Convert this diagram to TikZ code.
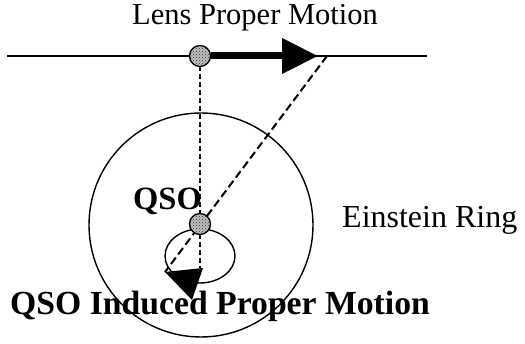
\documentclass[tikz,border=0pt]{standalone}
\usepackage{fontspec}
\setmainfont{Liberation Serif}
\usetikzlibrary{arrows.meta,patterns,shapes.geometric}
\begin{document}
\begin{tikzpicture}[x=1pt,y=-1pt,
  dotball/.style={circle,draw,line width=1.3pt,minimum size=21pt,inner sep=0pt,
    preaction={fill=black!25},pattern=crosshatch dots,pattern color=black!80},
  dashv/.style={line width=1.5pt,dash pattern=on 5pt off 3pt},
  dashd/.style={line width=2pt,dash pattern=on 8pt off 4pt},
  lbl/.style={anchor=base west,inner sep=0pt,font=\fontsize{31}{36}\selectfont},
  blbl/.style={anchor=base west,inner sep=0pt,font=\bfseries\fontsize{33.7}{38}\selectfont}]
\useasboundingbox (0,0) rectangle (525,344);
% horizontal line
\coordinate (hl) at (7,56);
\coordinate (hr) at (427,56);
\draw[line width=1.6pt] (hl) -- (hr);
% Einstein ring
\node[circle,draw,line width=1.4pt,minimum size=224pt,inner sep=0pt] (ring) at (201,225) {};
% loop
\node[ellipse,draw,line width=1.4pt,minimum width=70pt,minimum height=54pt,inner sep=0pt] (loop) at (200,256) {};
% dashed lines
\coordinate (dtop) at (327,56);
\coordinate (dend) at (165,272);
\coordinate (vtop) at (200,66);
\coordinate (vend) at (200,268);
\draw[dashv] (vtop) -- (vend);
\draw[dashd] (dtop) -- (dend);
% induced motion arrowhead
\coordinate (t1) at (165,272);
\coordinate (t2) at (203,268);
\coordinate (t3) at (192,300);
\fill (t1) -- (t2) -- (t3) -- cycle;
% lens and qso
\node[dotball] (lens) at (200,56) {};
\node[dotball] (qso) at (200,224) {};
\coordinate (atip) at (318,56);
\draw[line width=7pt,-{Triangle[length=36pt,width=34pt]}] (lens) -- (atip);
% labels
\node[lbl,font=\fontsize{30.5}{36}\selectfont] (lenslbl) at (132,25) {Lens Proper Motion};
\node[lbl,font=\fontsize{32}{36}\selectfont] (einst) at (342,228) {Einstein Ring};
\node[blbl,font=\bfseries\fontsize{32.5}{36}\selectfont] (qsolbl) at (133,210) {QSO};
\node[blbl] (induced) at (10,315) {QSO Induced Proper Motion};
\end{tikzpicture}
\end{document}
